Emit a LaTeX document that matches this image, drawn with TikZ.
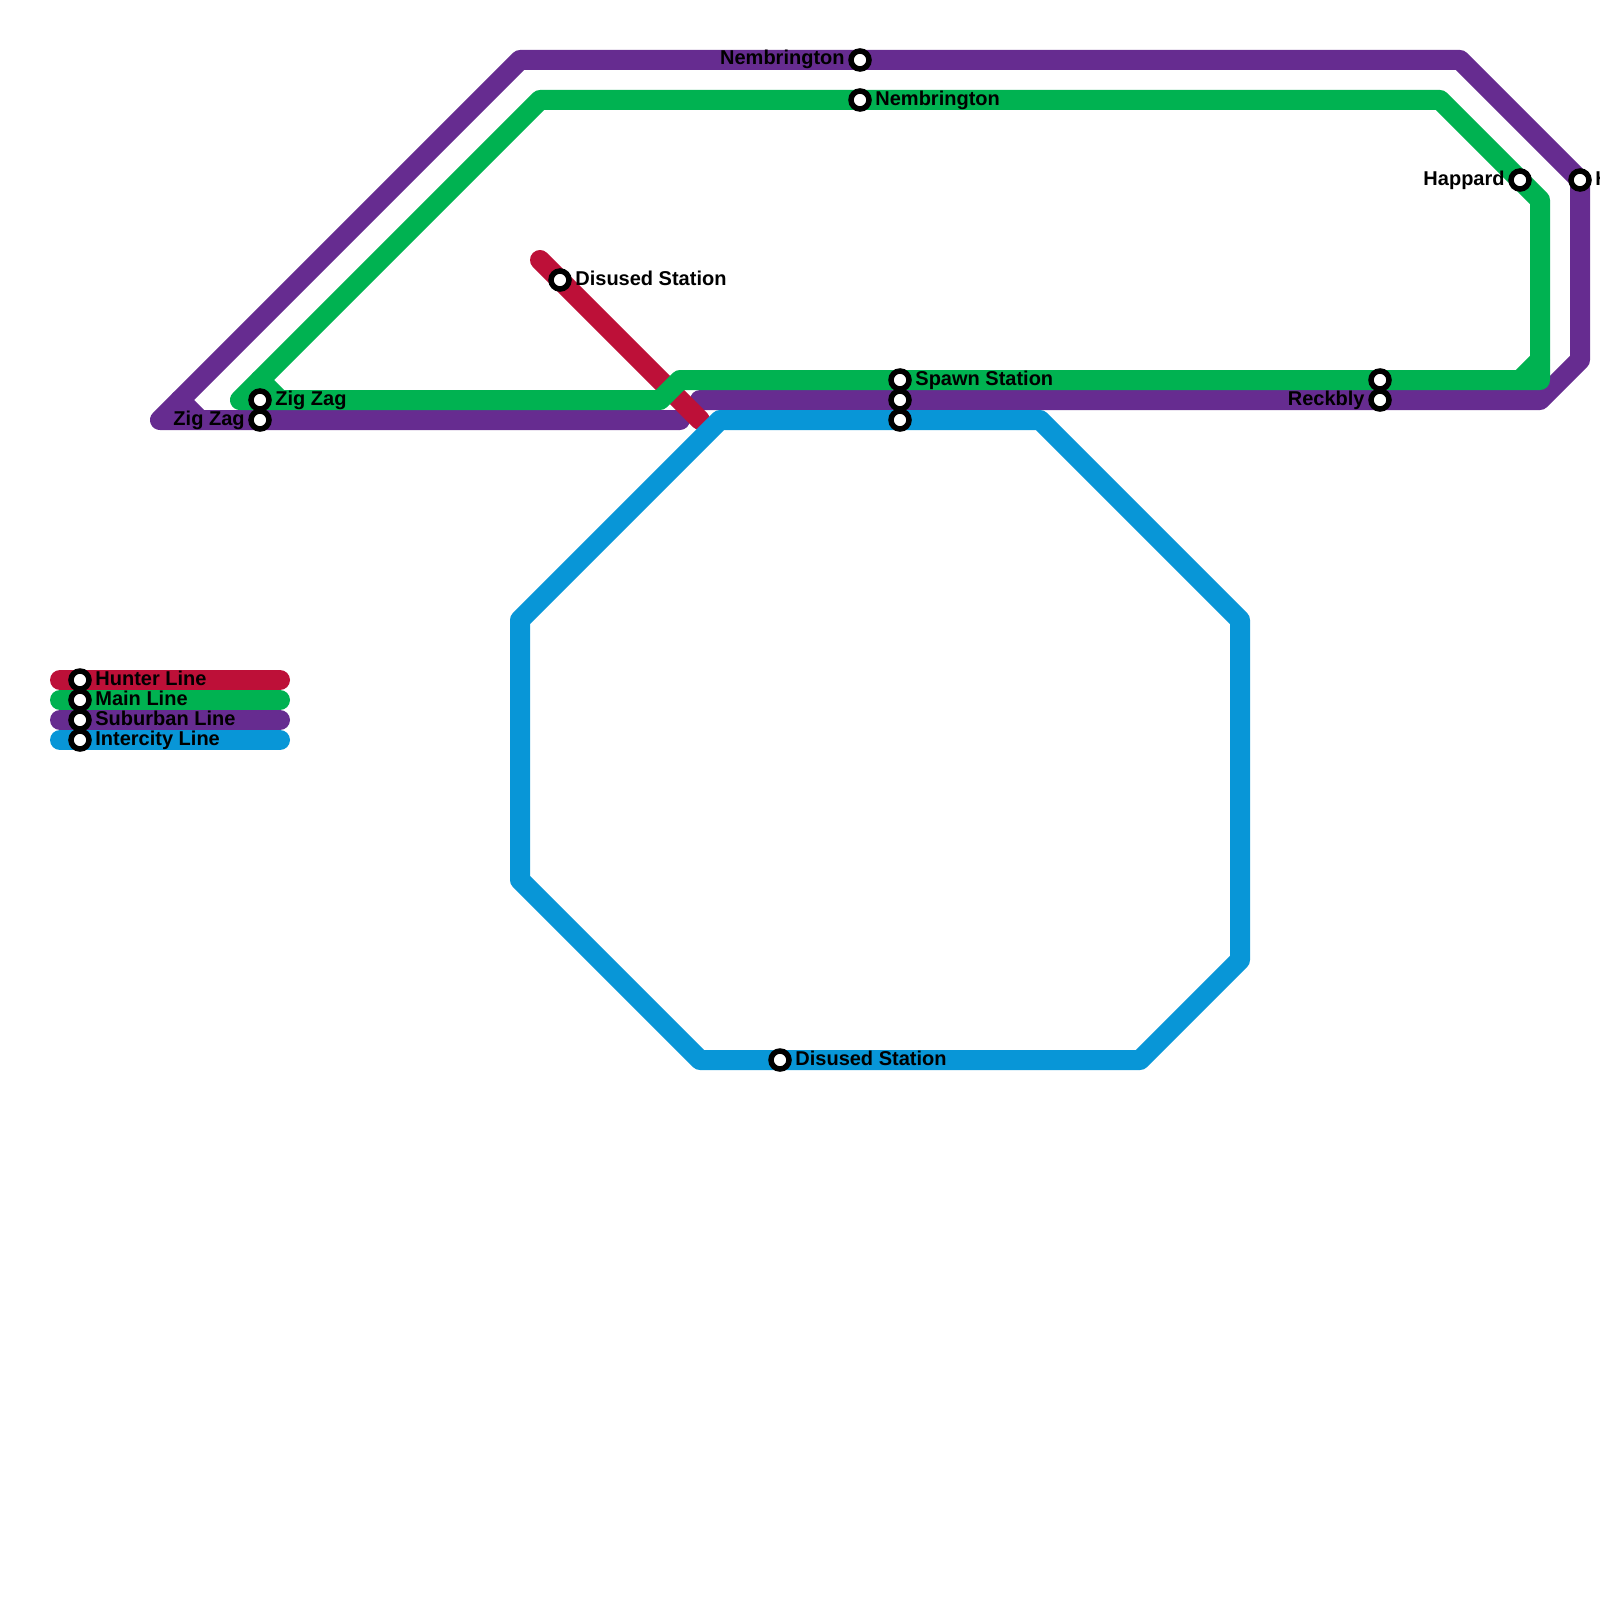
\documentclass[tikz,border=0pt]{standalone}
\usepackage{fontspec}
\setmainfont{Liberation Sans}
\definecolor{hunter}{HTML}{BD1038}
\definecolor{mainl}{HTML}{00B251}
\definecolor{suburb}{HTML}{662C90}
\definecolor{city}{HTML}{0896D7}
\tikzset{
  railline/.style={line width=10pt,line join=round,line cap=round},
  stn/.style={circle,draw=black,fill=white,line width=2.75pt,minimum size=9pt,inner sep=0pt,outer sep=0pt},
  lblr/.style={anchor=base west,inner sep=0pt,font=\bfseries\fontsize{10pt}{12pt}\selectfont,text=black},
  lbll/.style={anchor=base east,inner sep=0pt,font=\bfseries\fontsize{10pt}{12pt}\selectfont,text=black}
}
\begin{document}
\begin{tikzpicture}[x=0.5pt,y=-0.5pt]
\useasboundingbox (0,0) rectangle (1600,1600);
\clip (0,0) rectangle (1600,1600);
% legend lines
\draw[railline,hunter] (60,680) -- (280,680);
\draw[railline,mainl] (60,700) -- (280,700);
\draw[railline,suburb] (60,720) -- (280,720);
\draw[railline,city] (60,740) -- (280,740);
% suburban
\draw[railline,suburb] (680,420) -- (160,420) -- (520,60) -- (1460,60) -- (1580,180) -- (1580,360) -- (1540,400) -- (700,400);
\draw[railline,suburb] (180,400) -- (200,420);
% hunter
\draw[railline,hunter] (540,260) -- (700,420);
% main
\draw[railline,mainl] (240,400) -- (540,100) -- (1440,100) -- (1540,200) -- (1540,380) -- (680,380) -- (660,400) -- (240,400) -- cycle;
\draw[railline,mainl] (260,380) -- (280,400);
\draw[railline,mainl] (1520,380) -- (1540,360);
% intercity
\draw[railline,city] (720,420) -- (1040,420) -- (1240,620) -- (1240,960) -- (1140,1060) -- (700,1060) -- (520,880) -- (520,620) -- cycle;
% stations
\foreach \n/\x/\y in {lh/80/680,lm/80/700,ls/80/720,li/80/740,zz/260/400,zs/260/420,ds/560/280,ns/860/60,nm/860/100,sm/900/380,ss/900/400,si/900/420,dc/780/1060,rm/1380/380,rs/1380/400,hm/1520/180,hs/1580/180}
  \node[stn] (\n) at (\x,\y) {};
% labels
\node[lblr] (tlh) at (95,685) {Hunter Line};
\node[lblr] (tlm) at (95,705) {Main Line};
\node[lblr] (tls) at (95,725) {Suburban Line};
\node[lblr] (tli) at (95,745) {Intercity Line};
\node[lblr] (tzz) at (275,405) {Zig Zag};
\node[lbll] (tzs) at (245,425) {Zig Zag};
\node[lblr] (tds) at (575,285) {Disused Station};
\node[lbll] (tns) at (845,65) {Nembrington};
\node[lblr] (tnm) at (875,105) {Nembrington};
\node[lblr] (tsm) at (915,385) {Spawn Station};
\node[lblr] (tdc) at (795,1065) {Disused Station};
\node[lbll] (trs) at (1365,405) {Reckbly};
\node[lbll] (thm) at (1505,185) {Happard};
\node[lblr] (ths) at (1595,185) {Happard};
\end{tikzpicture}
\end{document}
